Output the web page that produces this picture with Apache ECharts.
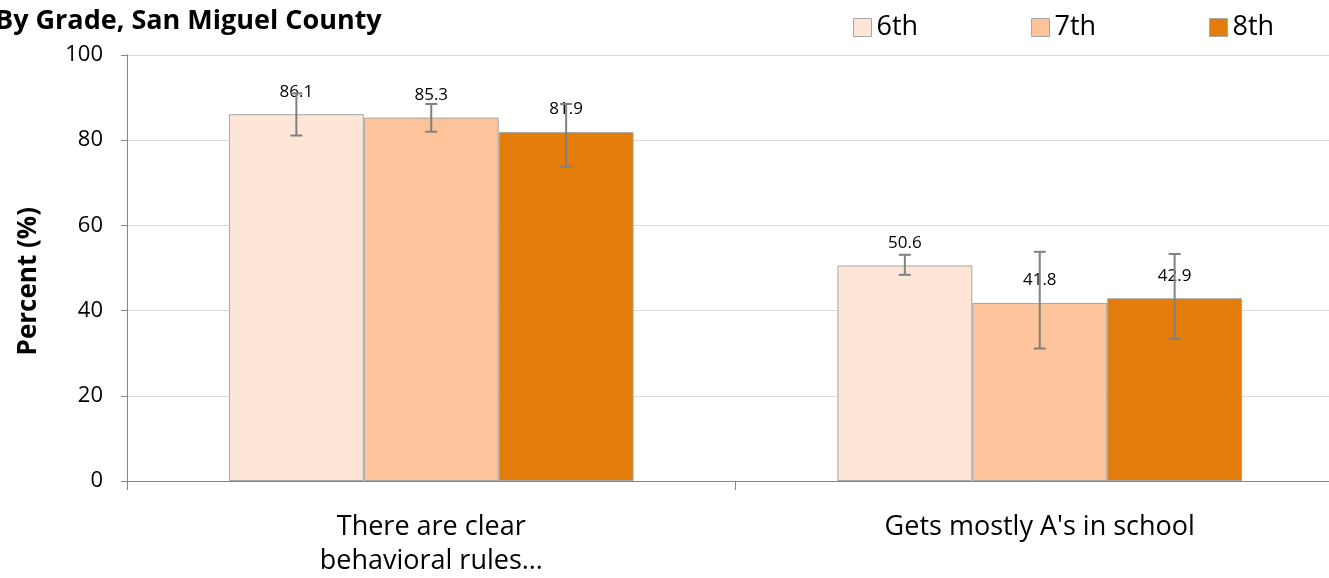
<!DOCTYPE html>
<html>
<head>
<meta charset="utf-8">
<script src="https://cdn.jsdelivr.net/npm/echarts@6/dist/echarts.min.js"></script>
<style>
  html, body { margin: 0; padding: 0; background: #fff; overflow: hidden; }
  /* plot area runs past the right edge in the original, so the canvas is a bit wider than the window */
  #main { width: 1345px; height: 578px; }
</style>
</head>
<body>
<div id="main"></div>
<script>
// data
var categories = ['There are clear\nbehavioral rules…', "Gets mostly A's in school"];
var grades = ['6th', '7th', '8th'];
var values = [
  [86.1, 50.6],   // 6th
  [85.3, 41.8],   // 7th
  [81.9, 42.9]    // 8th
];
// confidence interval ends (low, high)
var ciLow = [
  [81.1, 48.4],
  [82.0, 31.1],
  [73.8, 33.4]
];
var ciHigh = [
  [91.0, 53.1],
  [88.5, 53.8],
  [88.5, 53.3]
];
var colors = ['#fde5d8', '#fdc39b', '#e37c0a'];
var gapPct = 33.5;

var myChart = echarts.init(document.getElementById('main'));
var font = "'Open Sans', 'Noto Sans', sans-serif";

var series = [];
grades.forEach(function (g, i) {
  series.push({
    name: g,
    type: 'bar',
    data: values[i],
    barGap: 0,
    barCategoryGap: gapPct + '%',
    itemStyle: { color: colors[i], borderColor: '#a6a6a6', borderWidth: 1 },
    label: {
      show: true, position: 'top', distance: 14,
      color: '#000', fontSize: 17, fontFamily: font,
      formatter: function (p) { return p.value.toFixed(1); }
    },
    z: 2
  });
});

// error bars
var errData = [];
grades.forEach(function (g, i) {
  categories.forEach(function (c, j) {
    errData.push([j, ciLow[i][j], ciHigh[i][j], i]);
  });
});
series.push({
  type: 'custom',
  name: 'err',
  data: errData,
  z: 5,
  encode: { x: 0, y: [1, 2] },
  renderItem: function (params, api) {
    var cat = api.value(0);
    var gi = api.value(3);
    var lo = api.coord([cat, api.value(1)]);
    var hi = api.coord([cat, api.value(2)]);
    var catW = api.size([1, 0])[0];
    var barW = catW * (1 - gapPct / 100) / 3;
    var x = lo[0] + (gi - 1) * barW;
    var cap = 6;
    var st = { stroke: '#808080', lineWidth: 2 };
    return {
      type: 'group',
      children: [
        { type: 'line', shape: { x1: x, y1: hi[1], x2: x, y2: lo[1] }, style: st },
        { type: 'line', shape: { x1: x - cap, y1: hi[1], x2: x + cap, y2: hi[1] }, style: st },
        { type: 'line', shape: { x1: x - cap, y1: lo[1], x2: x + cap, y2: lo[1] }, style: st }
      ]
    };
  }
});

var legendPos = [848, 1026, 1204];
var legends = grades.map(function (g, i) {
  return {
    data: [g], left: legendPos[i], top: 9,
    itemWidth: 18, itemHeight: 18, itemGap: 8,
    icon: 'rect',
    itemStyle: { borderColor: '#a6a6a6', borderWidth: 1 },
    textStyle: { fontSize: 27, color: '#000', fontFamily: font },
    selectedMode: false
  };
});

myChart.setOption({
  animation: false,
  color: colors,
  title: {
    text: 'By Grade, San Miguel County',
    left: -10, top: 3,
    textStyle: { fontSize: 27, fontWeight: 'bold', color: '#000', fontFamily: font }
  },
  // y axis title sits a little below the middle of the plot in the original
  graphic: [{
    type: 'text',
    left: 16, top: 207,
    rotation: Math.PI / 2,
    style: {
      text: 'Percent (%)',
      fontSize: 26, fontWeight: 'bold', fill: '#000', fontFamily: font
    }
  }],
  legend: legends,
  grid: { left: 127, top: 55, width: 1217, height: 427, containLabel: false },
  xAxis: {
    type: 'category',
    data: categories,
    axisLine: { lineStyle: { color: '#868686', width: 1 } },
    axisTick: { show: true, length: 9, lineStyle: { color: '#868686' } },
    axisLabel: { fontSize: 27, color: '#000', fontFamily: font, margin: 29, lineHeight: 34 }
  },
  yAxis: {
    type: 'value',
    min: 0, max: 100, interval: 20,
    axisLine: { show: true, lineStyle: { color: '#868686' } },
    axisTick: { show: true, length: 6, lineStyle: { color: '#868686' } },
    axisLabel: { fontSize: 22, color: '#000', fontFamily: font, margin: 24 },
    splitLine: { lineStyle: { color: '#d9d9d9', width: 1 } }
  },
  series: series
});
</script>
</body>
</html>
